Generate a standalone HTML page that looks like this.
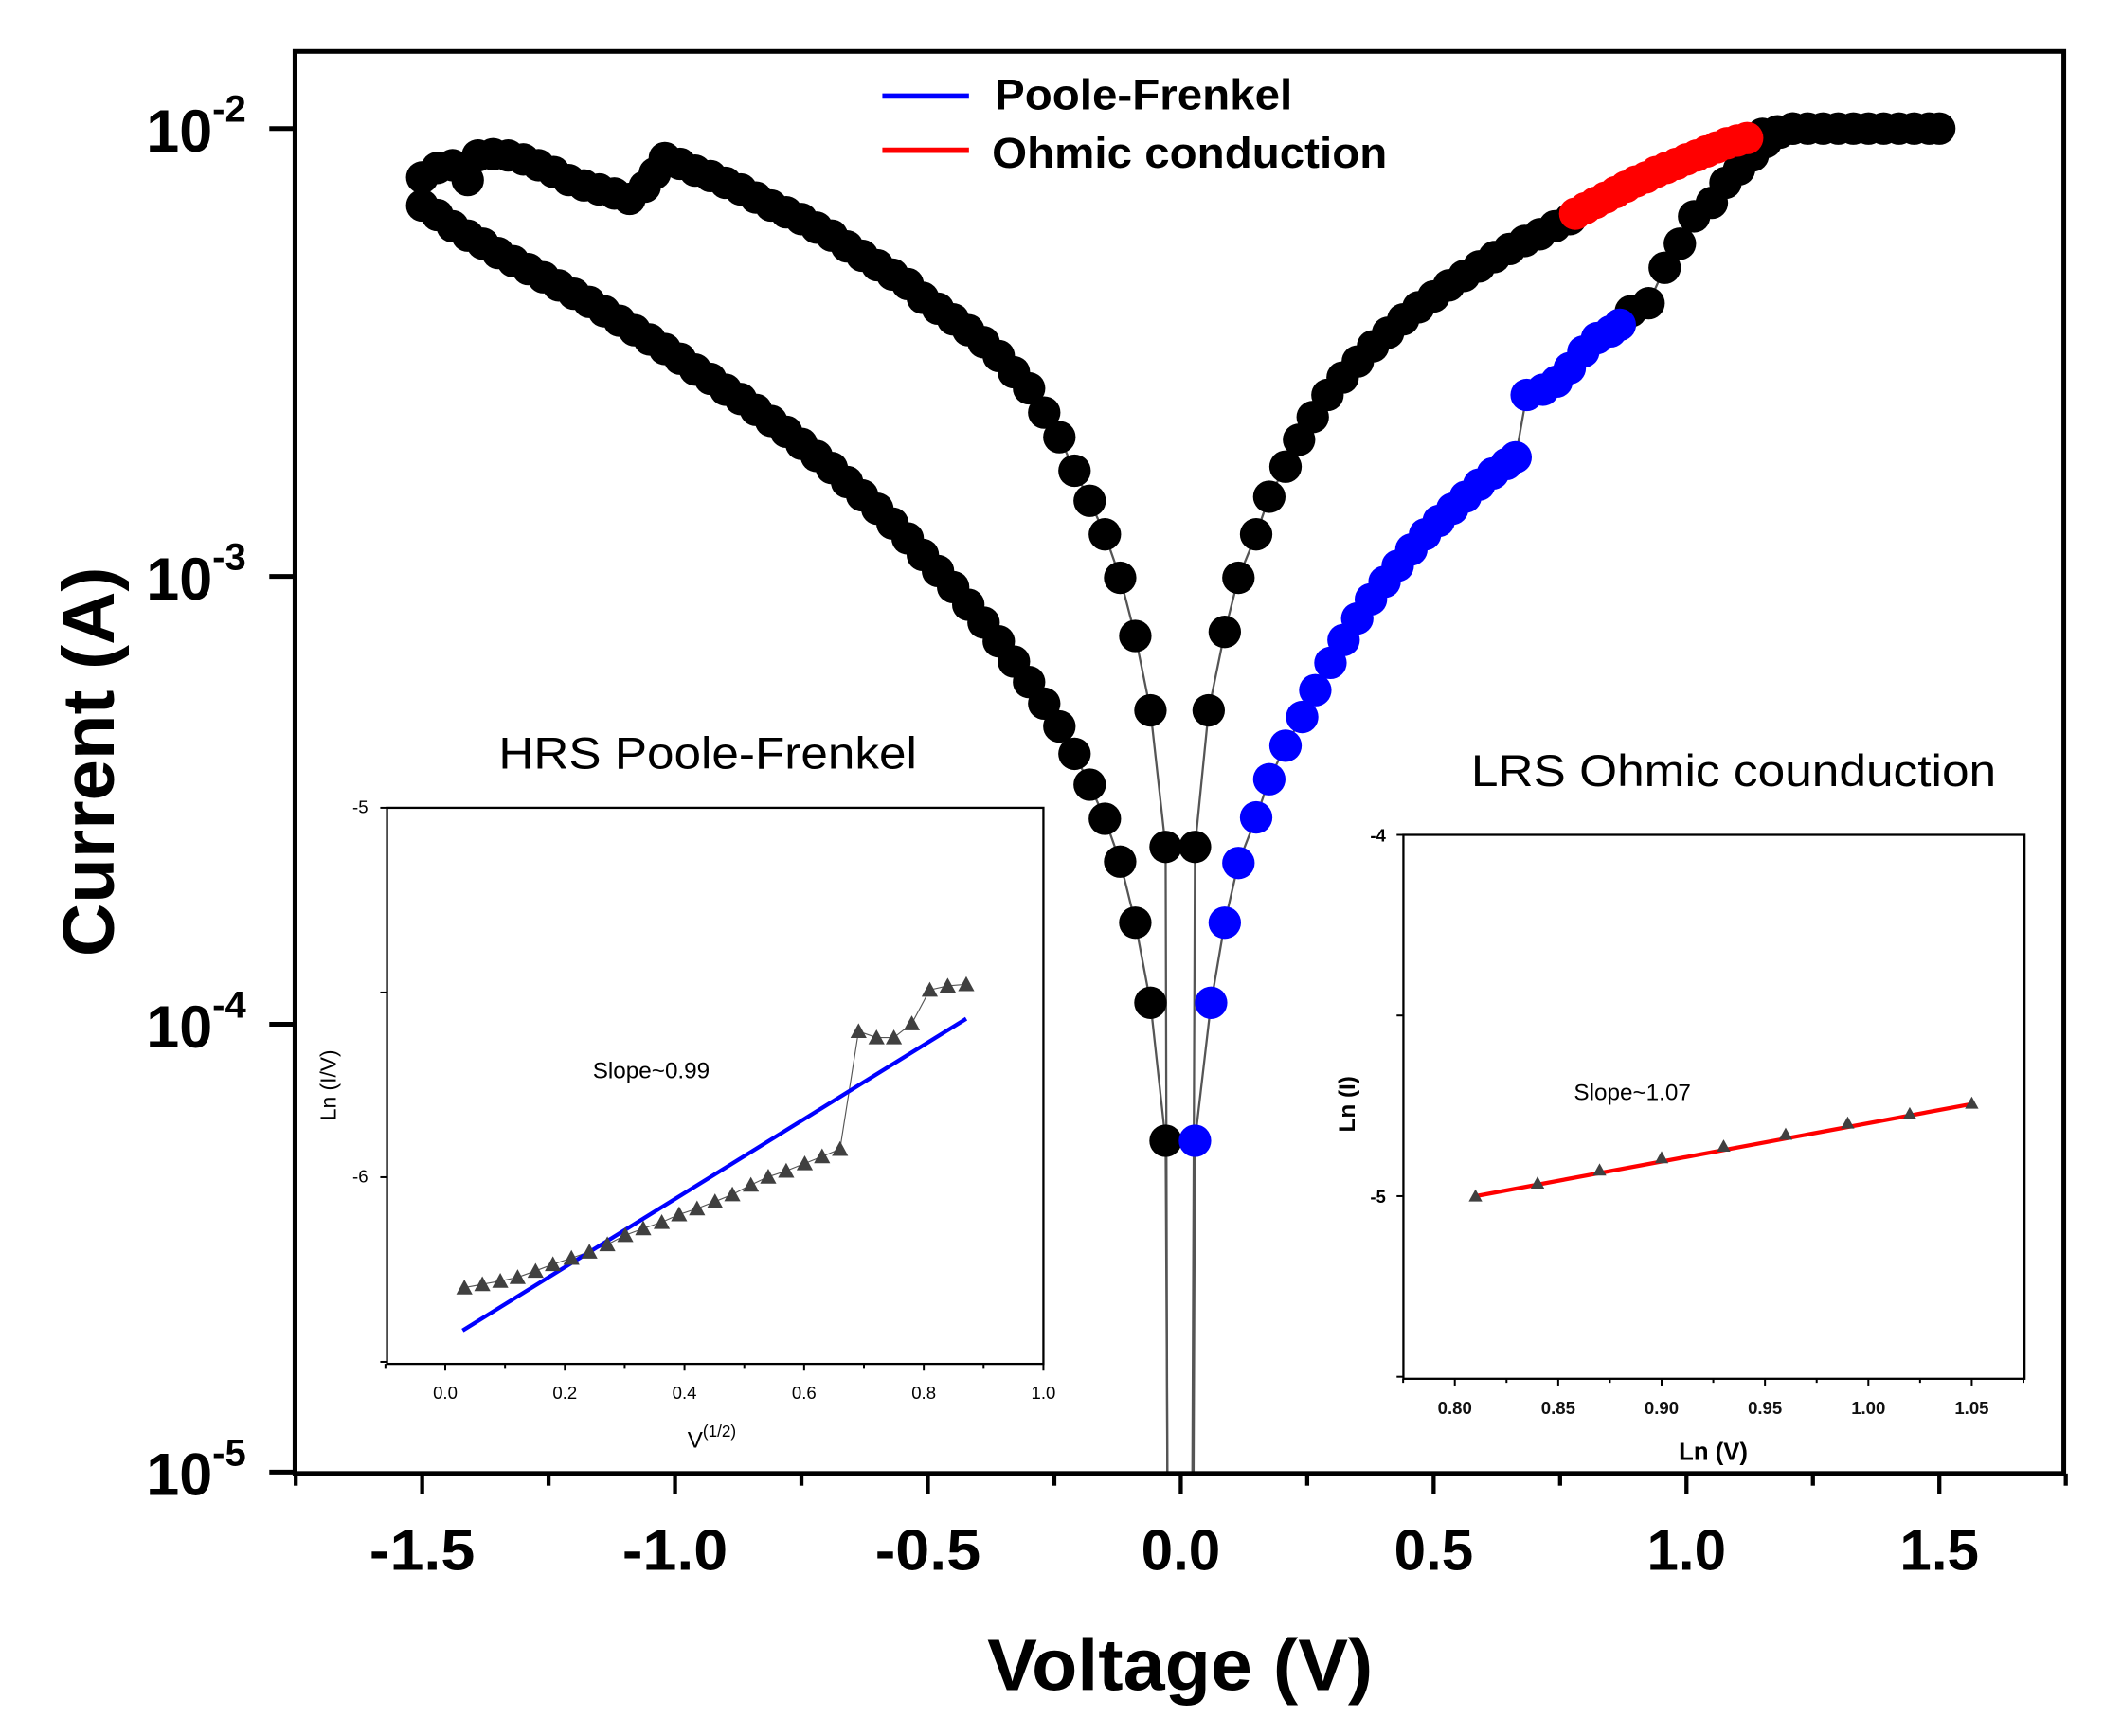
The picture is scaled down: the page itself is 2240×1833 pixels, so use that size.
<!DOCTYPE html>
<html><head><meta charset="utf-8"><style>
html,body{margin:0;padding:0;background:#fff;width:2240px;height:1833px;overflow:hidden;}
svg{display:block;position:absolute;left:0;top:0;}
text{font-family:"Liberation Sans",Arial,sans-serif;}
</style></head><body>
<svg id="chart" xmlns="http://www.w3.org/2000/svg" width="2240" height="1833" viewBox="0 0 1568 1283" preserveAspectRatio="none">
<rect x="0" y="0" width="1568" height="1283" fill="#fff"/>
<g id="main"></g>
<g id="insetL"></g>
<g id="insetR"></g>
</svg>
<script>
// ===== Main chart data (voltage V, log10 of current in A) =====
const upperLeftV = [-0.026,-0.03,-0.06,-0.09,-0.12,-0.15,-0.18,-0.21,-0.24,-0.27,-0.30,-0.33,-0.36,-0.39,-0.42,-0.45,-0.48,-0.51,-0.54,-0.57,-0.60,-0.63,-0.66,-0.69,-0.72,-0.75,-0.78,-0.81,-0.84,-0.87,-0.90,-0.93,-0.96,-0.99,-1.02,-1.04,-1.06,-1.09,-1.12,-1.15,-1.18,-1.21,-1.24,-1.27,-1.30,-1.33,-1.36,-1.39,-1.41,-1.44,-1.47,-1.50];
const upperLeftLogI = [-5.3,-3.604,-3.299,-3.133,-3.003,-2.906,-2.831,-2.764,-2.689,-2.634,-2.580,-2.544,-2.508,-2.477,-2.450,-2.426,-2.402,-2.378,-2.347,-2.326,-2.305,-2.284,-2.263,-2.239,-2.221,-2.202,-2.187,-2.172,-2.154,-2.136,-2.121,-2.106,-2.094,-2.079,-2.066,-2.100,-2.130,-2.157,-2.145,-2.136,-2.127,-2.115,-2.097,-2.082,-2.069,-2.060,-2.057,-2.060,-2.115,-2.082,-2.088,-2.109];
const lowerLeftV = [-1.50,-1.47,-1.44,-1.41,-1.38,-1.35,-1.32,-1.29,-1.26,-1.23,-1.20,-1.17,-1.14,-1.11,-1.08,-1.05,-1.02,-0.99,-0.96,-0.93,-0.90,-0.87,-0.84,-0.81,-0.78,-0.75,-0.72,-0.69,-0.66,-0.63,-0.60,-0.57,-0.54,-0.51,-0.48,-0.45,-0.42,-0.39,-0.36,-0.33,-0.30,-0.27,-0.24,-0.21,-0.18,-0.15,-0.12,-0.09,-0.06,-0.03,-0.025];
const lowerLeftLogI = [-2.172,-2.193,-2.218,-2.239,-2.257,-2.278,-2.296,-2.314,-2.332,-2.350,-2.369,-2.387,-2.408,-2.429,-2.450,-2.471,-2.492,-2.514,-2.538,-2.559,-2.583,-2.604,-2.628,-2.653,-2.677,-2.704,-2.731,-2.758,-2.789,-2.819,-2.849,-2.882,-2.915,-2.952,-2.988,-3.024,-3.063,-3.103,-3.145,-3.190,-3.236,-3.284,-3.335,-3.396,-3.465,-3.541,-3.637,-3.773,-3.952,-4.260,-5.3];
const upperRightV = [0.022,0.028,0.055,0.087,0.114,0.149,0.175,0.207,0.234,0.261,0.29,0.32,0.35,0.38,0.41,0.44,0.47,0.50,0.53,0.56,0.59,0.62,0.65,0.68,0.71,0.74,0.77];
const upperRightLogI = [-5.3,-3.604,-3.299,-3.124,-3.003,-2.906,-2.822,-2.755,-2.695,-2.644,-2.595,-2.556,-2.520,-2.486,-2.456,-2.426,-2.399,-2.375,-2.350,-2.329,-2.308,-2.287,-2.269,-2.251,-2.236,-2.218,-2.202];
const ohmicV = [0.78,0.80,0.82,0.84,0.86,0.88,0.90,0.92,0.94,0.96,0.98,1.00,1.02,1.04,1.06,1.08,1.10,1.12];
const ohmicLogI = [-2.190,-2.178,-2.166,-2.154,-2.142,-2.130,-2.118,-2.109,-2.097,-2.088,-2.079,-2.069,-2.060,-2.051,-2.042,-2.033,-2.027,-2.021];
const topRightV = [1.15,1.18,1.21,1.24,1.27,1.30,1.33,1.36,1.39,1.42,1.45,1.48,1.50];
const topRightLogI = [-2.012,-2.006,-2.0,-2.0,-2.0,-2.0,-2.0,-2.0,-2.0,-2.0,-2.0,-2.0,-2.0];
const pfV = [0.024,0.028,0.060,0.087,0.114,0.149,0.175,0.207,0.240,0.266,0.296,0.322,0.349,0.376,0.403,0.429,0.456,0.483,0.510,0.537,0.563,0.590,0.617,0.644,0.662,0.684,0.716,0.743,0.769,0.796,0.823,0.850,0.868];
const pfLogI = [-5.3,-4.260,-3.952,-3.773,-3.640,-3.538,-3.453,-3.378,-3.314,-3.254,-3.193,-3.142,-3.094,-3.051,-3.012,-2.976,-2.940,-2.906,-2.876,-2.849,-2.822,-2.795,-2.770,-2.749,-2.734,-2.595,-2.583,-2.565,-2.535,-2.498,-2.468,-2.453,-2.438];
const returnRightV = [0.868,0.890,0.925,0.957,0.987,1.015,1.050,1.077,1.104,1.131,1.157,1.184,1.21];
const returnRightLogI = [-2.438,-2.408,-2.390,-2.311,-2.257,-2.196,-2.166,-2.121,-2.091,-2.060,-2.030,-2.009,-2.0];
const xTicks = [-1.5,-1.0,-0.5,0.0,0.5,1.0,1.5];
const xTickLabels = ["-1.5","-1.0","-0.5","0.0","0.5","1.0","1.5"];
const yDecades = [-2,-3,-4,-5];

// ===== Inset HRS data =====
const hrsX = [0.032,0.062,0.092,0.121,0.151,0.180,0.211,0.241,0.271,0.301,0.331,0.362,0.391,0.421,0.451,0.480,0.511,0.540,0.570,0.601,0.630,0.660,0.691,0.721,0.750,0.780,0.810,0.840,0.871];
const hrsY = [-6.299,-6.290,-6.281,-6.271,-6.254,-6.236,-6.219,-6.202,-6.182,-6.157,-6.139,-6.122,-6.101,-6.085,-6.066,-6.047,-6.021,-5.999,-5.983,-5.963,-5.944,-5.924,-5.605,-5.622,-5.622,-5.584,-5.493,-5.482,-5.478];
const hrsFitX = [0.029,0.871];
const hrsFitY = [-6.415,-5.571];
const hrsXTicks = ["0.0","0.2","0.4","0.6","0.8","1.0"];
// ===== Inset LRS data =====
const lrsX = [0.81,0.84,0.87,0.90,0.93,0.96,0.99,1.02,1.05];
const lrsY = [-5.000,-4.964,-4.928,-4.894,-4.862,-4.829,-4.798,-4.772,-4.743];
const lrsFitX = [0.81,1.05];
const lrsFitY = [-5.0,-4.745];
const lrsXTicks = ["0.80","0.85","0.90","0.95","1.00","1.05"];

const NS = "http://www.w3.org/2000/svg";
function mk(parent, tag, attrs, txt){
  const e = document.createElementNS(NS, tag);
  for (const k in attrs) e.setAttribute(k, attrs[k]);
  if (txt !== undefined) e.textContent = txt;
  parent.appendChild(e);
  return e;
}
const X0=218, X1=1525, Y0=38, Y1=1089;
function xM(v){ return 872.5 + v*373.7; }
function yM(l){ return 95 + (-2 - l)*331; }

const main = document.getElementById('main');
const defs = mk(main,'defs',{});
const cp = mk(defs,'clipPath',{id:'plotclip'});
mk(cp,'rect',{x:X0,y:Y0,width:X1-X0,height:Y1-Y0});

const lines = mk(main,'g',{'clip-path':'url(#plotclip)'});


function poly(g, xs, ys, color, w, name){
  const pts = xs.map((v,i)=>xM(v).toFixed(1)+','+yM(ys[i]).toFixed(1)).join(' ');
  const p = mk(g,'polyline',{points:pts,fill:'none',stroke:color,'stroke-width':w});
  
  
}
poly(lines, upperLeftV, upperLeftLogI, '#555', 1.6, 'upper-left-line');
poly(lines, lowerLeftV, lowerLeftLogI, '#555', 1.6, 'lower-left-line');
poly(lines, upperRightV, upperRightLogI, '#555', 1.6, 'upper-right-line');
poly(lines, pfV, pfLogI, '#555', 1.6, 'pf-line');
poly(lines, returnRightV, returnRightLogI, '#555', 1.6, 'return-right-line');

const dotsG = mk(main,'g',{'clip-path':'url(#plotclip)'});
function dots(xs, ys, color, name){
  xs.forEach((v,i)=>{
    if (ys[i] < -5) return;
    const c = mk(dotsG,'circle',{cx:xM(v).toFixed(1),cy:yM(ys[i]).toFixed(1),r:12,fill:color});
    
    
  });
}
dots(upperLeftV, upperLeftLogI, '#000', 'iv-point');
dots(lowerLeftV, lowerLeftLogI, '#000', 'iv-point');
dots(upperRightV, upperRightLogI, '#000', 'iv-point');
dots(topRightV, topRightLogI, '#000', 'iv-point');
dots(returnRightV, returnRightLogI, '#000', 'iv-point');
dots(pfV, pfLogI, '#0000ff', 'poole-frenkel-point');
dots(ohmicV, ohmicLogI, '#ff0000', 'ohmic-point');

const frame = mk(main,'rect',{x:X0,y:Y0,width:X1-X0,height:Y1-Y0,fill:'none',stroke:'#000','stroke-width':3.5});


for (let k=-7;k<=7;k++){
  const v = k*0.25, x = xM(v);
  const len = (Math.abs(v)%0.5===0) ? 15 : 9;
  mk(main,'line',{x1:x,y1:Y1,x2:x,y2:Y1+len,stroke:'#000','stroke-width':3});
}
xTicks.forEach((v,i)=>{
  const t = mk(main,'text',{x:xM(v),y:1160,'text-anchor':'middle','font-size':42,'font-weight':'bold',textLength:(xTickLabels[i].length*19.5),lengthAdjust:'spacingAndGlyphs'}, xTickLabels[i]);
  
  
});
yDecades.forEach(d=>{
  const y = yM(d);
  mk(main,'line',{x1:X0-19,y1:y,x2:X0,y2:y,stroke:'#000','stroke-width':3.5});
  const t = mk(main,'text',{x:108,y:y+17,'font-size':44,'font-weight':'bold'});
  
  
  mk(t,'tspan',{},'10');
  mk(t,'tspan',{dy:-22,'font-size':28},String(d));
});
const xt = mk(main,'text',{x:872,y:1249,'text-anchor':'middle','font-size':54,'font-weight':'bold',textLength:285,lengthAdjust:'spacingAndGlyphs'},'Voltage (V)');


const yt = mk(main,'text',{x:0,y:0,'text-anchor':'middle','font-size':54,'font-weight':'bold',textLength:288,lengthAdjust:'spacingAndGlyphs',transform:'translate(84,563) rotate(-90)'},'Current (A)');


const lg = mk(main,'g',{});


mk(lg,'line',{x1:652,y1:71,x2:716,y2:71,stroke:'#0000ff','stroke-width':4});
const l1 = mk(lg,'text',{x:735,y:81,'font-size':32,'font-weight':'bold',textLength:220,lengthAdjust:'spacingAndGlyphs'},'Poole-Frenkel');


mk(lg,'line',{x1:652,y1:111,x2:716,y2:111,stroke:'#ff0000','stroke-width':4});
const l2 = mk(lg,'text',{x:733,y:124,'font-size':32,'font-weight':'bold',textLength:292,lengthAdjust:'spacingAndGlyphs'},'Ohmic conduction');



// ===== Left inset =====
const gL = document.getElementById('insetL');

const LX0=286, LX1=771, LY0=597, LY1=1008;
function xL(v){ return 329 + v*442; }
function yL(v){ return 597 + (-5 - v)*273; }
mk(gL,'rect',{x:LX0,y:LY0,width:LX1-LX0,height:LY1-LY0,fill:'none',stroke:'#000','stroke-width':1.6});
for (let k=-1;k<=10;k++){
  const x = xL(k*0.1); const len = (k%2===0)?5:3;
  mk(gL,'line',{x1:x,y1:LY1,x2:x,y2:LY1+len,stroke:'#000','stroke-width':1.4});
}
hrsXTicks.forEach((s,i)=>{
  const t = mk(gL,'text',{x:xL(i*0.2),y:1034,'text-anchor':'middle','font-size':13},s);
  
  
});
[-5,-5.5,-6,-6.5].forEach(v=>{
  mk(gL,'line',{x1:LX0-5,y1:yL(v),x2:LX0,y2:yL(v),stroke:'#000','stroke-width':1.4});
});
mk(gL,'text',{x:272,y:601,'text-anchor':'end','font-size':13},'-5');
mk(gL,'text',{x:272,y:874,'text-anchor':'end','font-size':13},'-6');
const ht = mk(gL,'text',{x:523,y:568,'text-anchor':'middle','font-size':33,textLength:309,lengthAdjust:'spacingAndGlyphs'},'HRS Poole-Frenkel');


const hxl = mk(gL,'text',{x:508,y:1070,'font-size':17});


mk(hxl,'tspan',{},'V');
mk(hxl,'tspan',{dy:-8,'font-size':12},'(1/2)');
const hyl = mk(gL,'text',{x:0,y:0,'text-anchor':'middle','font-size':16,transform:'translate(248,802) rotate(-90)'},'Ln (I/V)');


const hs = mk(gL,'text',{x:438,y:797,'font-size':17},'Slope~0.99');


mk(gL,'polyline',{points:hrsX.map((v,i)=>xL(v).toFixed(1)+','+yL(hrsY[i]).toFixed(1)).join(' '),fill:'none',stroke:'#555','stroke-width':0.8});
const hfit = mk(gL,'line',{x1:xL(hrsFitX[0]),y1:yL(hrsFitY[0]),x2:xL(hrsFitX[1]),y2:yL(hrsFitY[1]),stroke:'#0000ff','stroke-width':3});


hrsX.forEach((v,i)=>{
  const x=xL(v), y=yL(hrsY[i]);
  const tr = mk(gL,'polygon',{points:`${x-6},${y+5} ${x+6},${y+5} ${x},${y-6}`,fill:'#404040'});
  
  
});

// ===== Right inset =====
const gR = document.getElementById('insetR');

const RX0=1037, RX1=1496, RY0=617, RY1=1019;
function xR(v){ return 1075 + (v-0.80)*1528; }
function yR(v){ return 617 + (-4 - v)*267; }
mk(gR,'rect',{x:RX0,y:RY0,width:RX1-RX0,height:RY1-RY0,fill:'none',stroke:'#000','stroke-width':1.6});
for (let k=-1;k<=11;k++){
  const x = xR(0.80 + k*0.025); const len = (k%2===0)?5:3;
  mk(gR,'line',{x1:x,y1:RY1,x2:x,y2:RY1+len,stroke:'#000','stroke-width':1.4});
}
lrsXTicks.forEach((s,i)=>{
  const t = mk(gR,'text',{x:xR(0.80+i*0.05),y:1045,'text-anchor':'middle','font-size':13,'font-weight':'bold',fill:'#111'},s);
  
  
});
[-4,-4.5,-5,-5.5].forEach(v=>{
  mk(gR,'line',{x1:RX0-5,y1:yR(v),x2:RX0,y2:yR(v),stroke:'#000','stroke-width':1.4});
});
mk(gR,'text',{x:1024,y:622,'text-anchor':'end','font-size':13,'font-weight':'bold'},'-4');
mk(gR,'text',{x:1024,y:889,'text-anchor':'end','font-size':13,'font-weight':'bold'},'-5');
const rt = mk(gR,'text',{x:1281,y:581,'text-anchor':'middle','font-size':33,textLength:388,lengthAdjust:'spacingAndGlyphs'},'LRS Ohmic counduction');


const rxl = mk(gR,'text',{x:1266,y:1079,'text-anchor':'middle','font-size':18,'font-weight':'bold'},'Ln (V)');


const ryl = mk(gR,'text',{x:0,y:0,'text-anchor':'middle','font-size':17,'font-weight':'bold',transform:'translate(1001,816) rotate(-90)'},'Ln (I)');


const rs = mk(gR,'text',{x:1163,y:813,'font-size':17},'Slope~1.07');


const rfit = mk(gR,'line',{x1:xR(lrsFitX[0]),y1:yR(lrsFitY[0]),x2:xR(lrsFitX[1]),y2:yR(lrsFitY[1]),stroke:'#ff0000','stroke-width':3});


lrsX.forEach((v,i)=>{
  const x=xR(v), y=yR(lrsY[i]);
  const tr = mk(gR,'polygon',{points:`${x-5},${y+4} ${x+5},${y+4} ${x},${y-5}`,fill:'#404040'});
  
  
});
</script>
</body></html>
